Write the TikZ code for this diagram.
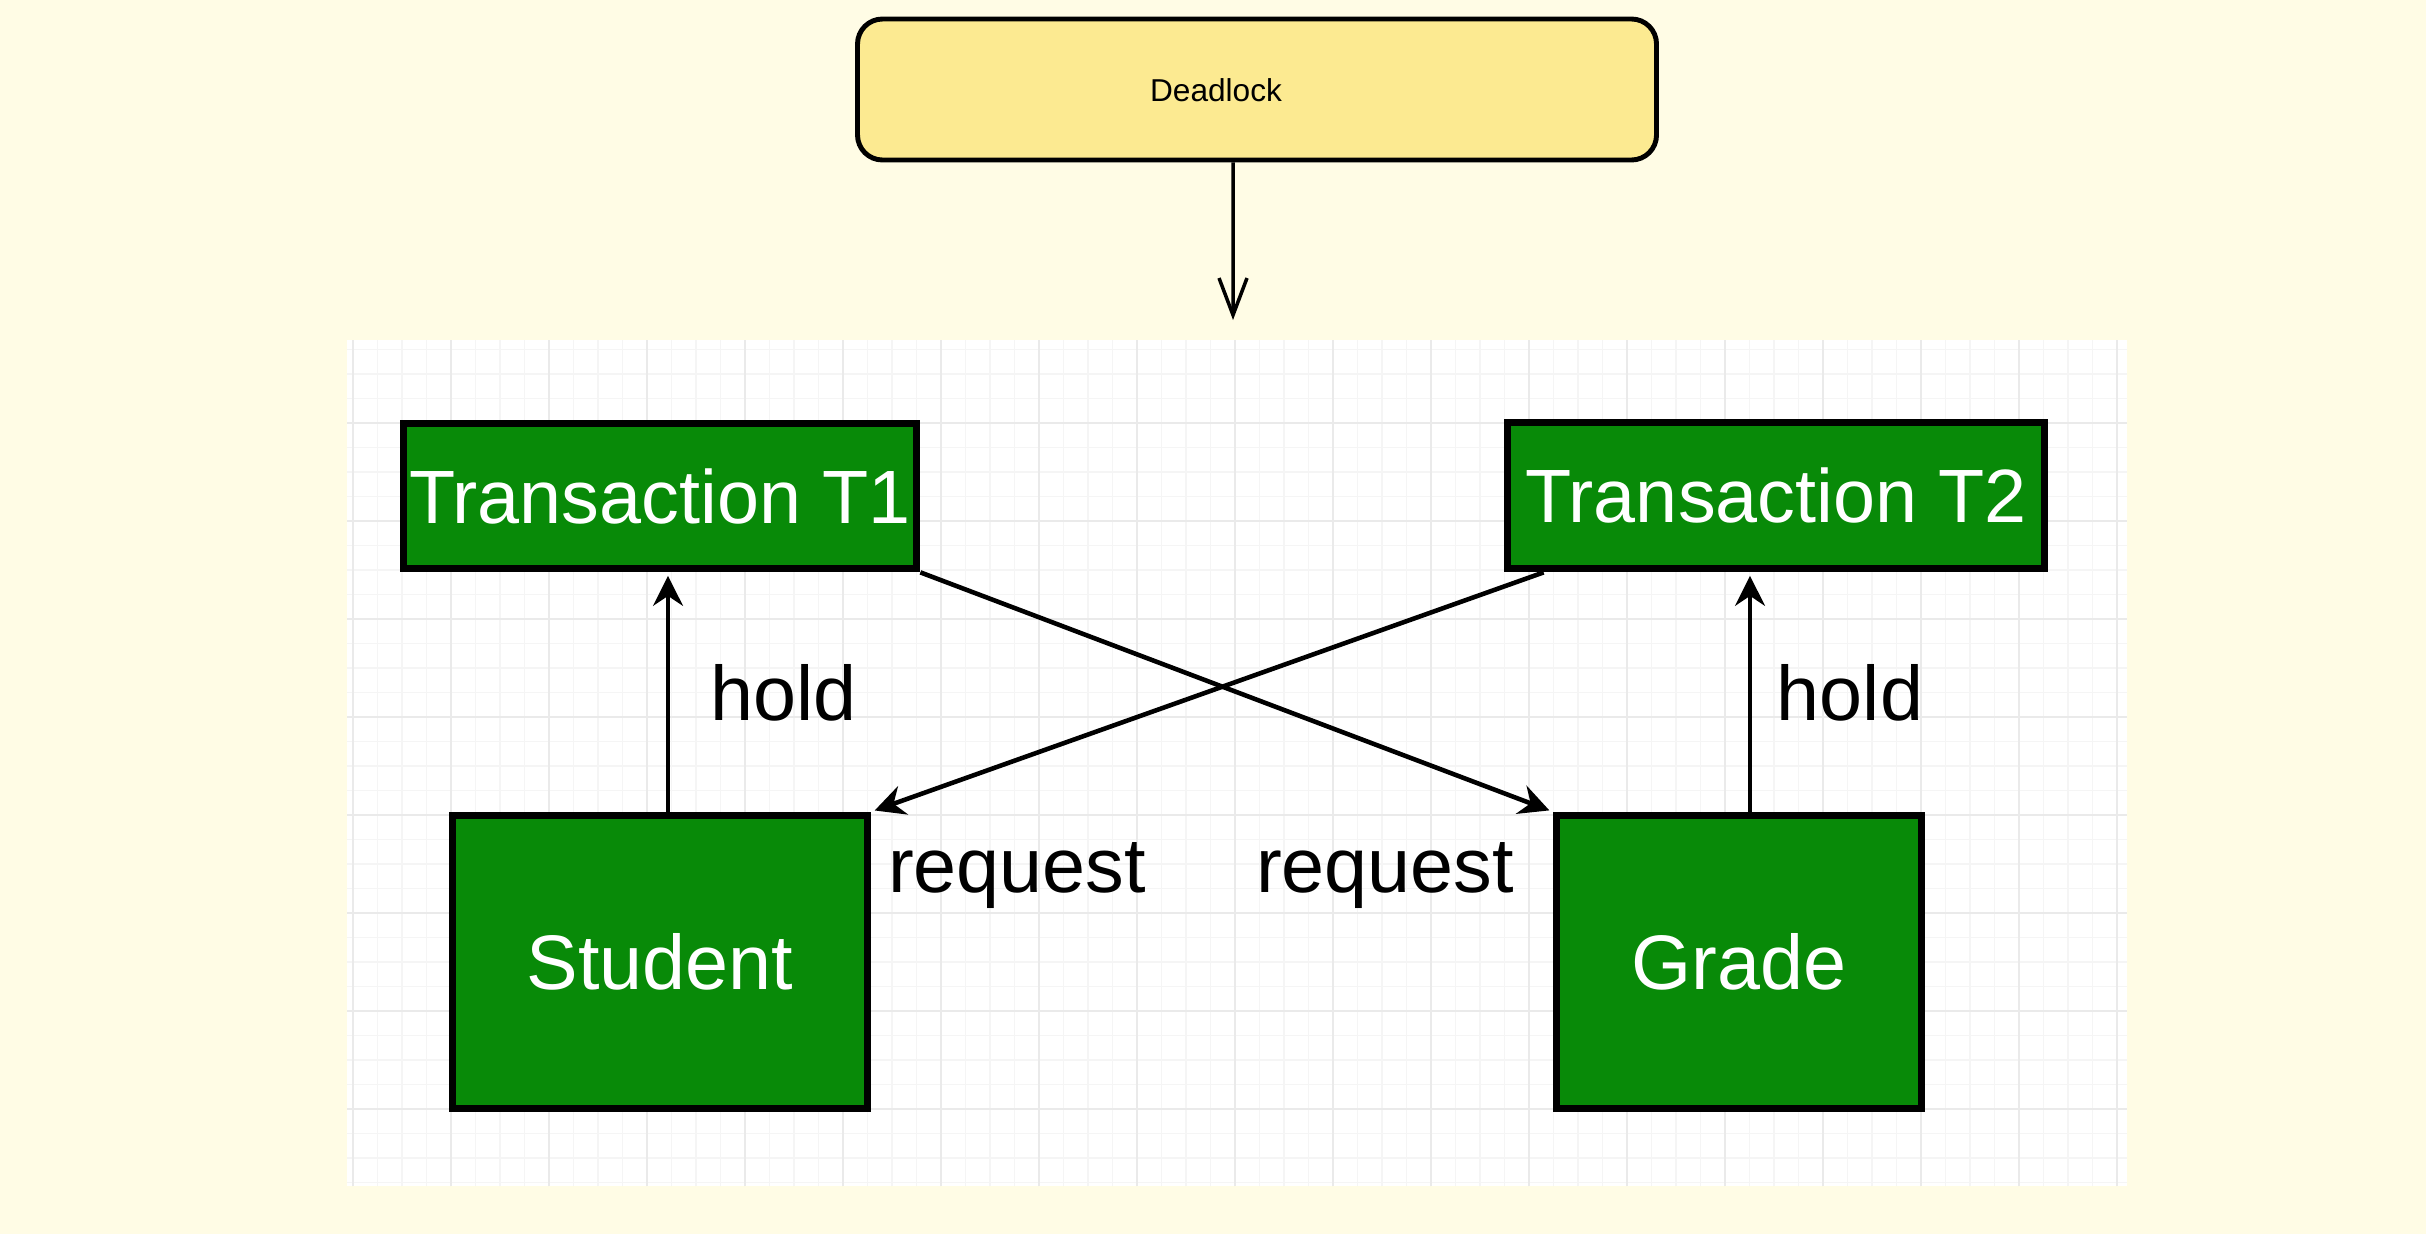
\documentclass[tikz,border=0pt]{standalone}
\usepackage{fontspec}
\setmainfont{Liberation Sans}
\usetikzlibrary{arrows.meta}

\definecolor{paper}{HTML}{FFFCE5}
\definecolor{notefill}{HTML}{FCEA91}
\definecolor{boxgreen}{HTML}{088A08}
\definecolor{gridminor}{HTML}{F5F5F5}
\definecolor{gridmajor}{HTML}{EAEAEA}

\begin{document}
\begin{tikzpicture}[
  box/.style={draw=black, line width=2.2pt, fill=boxgreen, text=white, inner sep=0pt, font=\fontsize{22}{26}\selectfont},
  holdarrow/.style={line width=1pt, shorten >=1pt, -{Stealth[length=3mm,width=3mm,inset=1mm]}},
  reqarrow/.style={line width=1.3pt, shorten >=1pt, -{Stealth[length=3mm,width=3mm,inset=1mm]}},
  lbl/.style={anchor=base, inner sep=0pt, font=\fontsize{22}{26}\selectfont}
]
\useasboundingbox[fill=paper] (0,0) rectangle (24.26,12.34);

\node[draw=black, line width=1.4pt, rounded corners=0.25cm, fill=notefill, minimum width=7.99cm, minimum height=1.41cm] (deadlock) at (12.57,11.445) {};
\node[font=\fontsize{9}{11}\selectfont] (deadlocktxt) at (12.16,11.44) {Deadlock};
\coordinate (panelin) at (12.33,9.14);
\draw[line width=1pt, -{Straight Barb[length=3.7mm,width=2.8mm]}] ([xshift=-2.4mm]deadlock.south) -- (panelin);

% screenshot panel with grid
\fill[white] (3.47,0.48) rectangle (21.27,8.94);
\begin{scope}[shift={(3.53,8.11)}]
\draw[gridminor, line width=0.5pt, step=0.245] (-0.06,-7.63) grid (17.74,0.83);
\draw[gridmajor, line width=0.7pt, step=0.98] (-0.06,-7.63) grid (17.74,0.83);
\end{scope}

\node[box, minimum width=5.13cm, minimum height=1.45cm, font=\fontsize{21.5}{26}\selectfont] (t1) at (6.60,7.38) {Transaction T1};
\node[box, minimum width=5.37cm, minimum height=1.46cm, font=\fontsize{21.5}{26}\selectfont] (t2) at (17.76,7.385) {Transaction T2};
\node[box, minimum width=4.15cm, minimum height=2.93cm] (student) at (6.60,2.72) {Student};
\node[box, minimum width=3.65cm, minimum height=2.93cm] (grade) at (17.39,2.72) {Grade};

\draw[holdarrow] ([xshift=0.8mm]student.north) -- ([xshift=0.8mm]t1.south);
\draw[holdarrow] ([xshift=1.1mm]grade.north) -- ([xshift=1.1mm]grade.north |- t2.south);
\draw[reqarrow] (t1.south east) -- (grade.north west);
\draw[reqarrow] ([xshift=4mm]t2.south west) -- (student.north east);

\node[lbl] (holdA) at (7.835,5.14) {hold};
\node[lbl] (holdB) at (18.50,5.14) {hold};
\node[lbl] (reqA) at (10.17,3.42) {request};
\node[lbl] (reqB) at (13.85,3.42) {request};

\end{tikzpicture}
\end{document}
